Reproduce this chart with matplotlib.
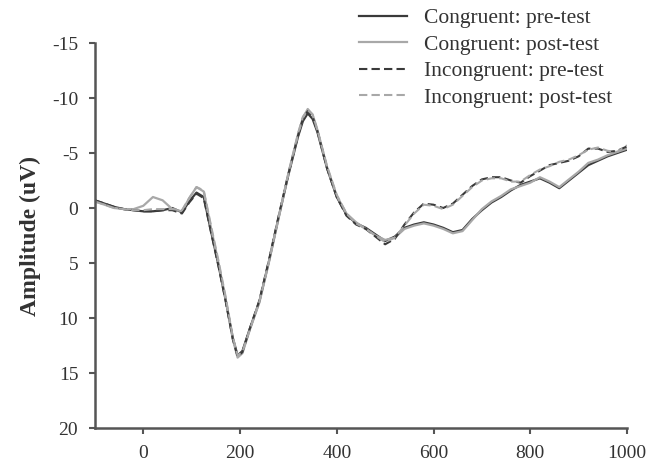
import matplotlib
matplotlib.use("Agg")
import matplotlib.pyplot as plt

plt.rcParams['font.family'] = ['Liberation Serif', 'DejaVu Serif']
plt.rcParams['axes.unicode_minus'] = False

# time points (ms)
times = [-100, -80, -60, -40, -20, 0, 20, 40, 60, 80, 95, 110, 125, 140, 155, 170, 185, 195,
         205, 220, 240, 260, 280, 300, 320, 330, 340, 350, 360, 380, 400, 420, 440, 460, 480, 500, 520,
         540, 560, 580, 600, 620, 640, 660, 680, 700, 720, 740, 760, 780, 800, 820, 840, 860,
         880, 900, 920, 940, 960, 980, 1000]

# amplitudes (uV)
cong_pre = [-0.7, -0.4, -0.1, 0.1, 0.2, 0.3, 0.3, 0.2, 0.0, 0.4, -0.6, -1.4, -1.0, 2.1, 5.1, 8.3, 11.8, 13.4,
            13.0, 11.0, 8.5, 4.8, 0.8, -3.0, -6.5, -7.9, -8.6, -8.1, -6.9, -3.6, -1.0, 0.6, 1.4, 1.8, 2.4, 3.0, 2.6,
            1.8, 1.5, 1.3, 1.5, 1.8, 2.2, 2.0, 1.0, 0.2, -0.5, -1.0, -1.6, -2.1, -2.4, -2.7, -2.3, -1.8,
            -2.5, -3.2, -3.9, -4.3, -4.7, -5.0, -5.3]
cong_post = [-0.6, -0.3, 0.0, 0.1, 0.1, -0.2, -1.0, -0.7, 0.1, 0.3, -0.9, -1.9, -1.5, 1.8, 4.9, 8.2, 11.9, 13.6,
             13.2, 11.1, 8.6, 4.9, 0.9, -3.1, -6.7, -8.2, -9.0, -8.5, -7.1, -3.7, -1.1, 0.5, 1.3, 1.9, 2.5, 2.9, 2.7,
             1.9, 1.6, 1.4, 1.6, 1.9, 2.3, 2.1, 1.1, 0.1, -0.6, -1.1, -1.7, -2.0, -2.3, -2.8, -2.4, -1.9,
             -2.6, -3.3, -4.1, -4.4, -4.8, -5.1, -5.4]
incong_pre = [-0.7, -0.4, -0.1, 0.1, 0.2, 0.3, 0.3, 0.2, 0.2, 0.5, -0.5, -1.3, -0.9, 2.2, 5.2, 8.4, 11.9, 13.5,
              13.1, 11.0, 8.4, 4.7, 0.7, -3.1, -6.6, -8.1, -8.8, -8.3, -7.0, -3.6, -1.0, 0.7, 1.5, 1.9, 2.6, 3.3, 2.8,
              1.5, 0.4, -0.4, -0.3, 0.0, -0.4, -1.2, -2.0, -2.6, -2.8, -2.8, -2.5, -2.3, -2.9, -3.4, -3.9, -4.1,
              -4.3, -4.7, -5.4, -5.4, -5.1, -5.2, -5.6]
incong_post = [-0.6, -0.3, 0.0, 0.1, 0.2, 0.2, 0.1, 0.1, 0.1, 0.2, -0.9, -1.9, -1.6, 1.6, 4.7, 8.0, 11.7, 13.4,
               13.1, 11.1, 8.5, 4.8, 0.8, -3.2, -6.8, -8.3, -8.9, -8.5, -7.1, -3.8, -1.2, 0.5, 1.4, 1.9, 2.5, 3.1, 2.7,
               1.6, 0.5, -0.3, -0.2, 0.1, -0.3, -1.1, -1.9, -2.5, -2.7, -2.7, -2.4, -2.4, -3.0, -3.5, -3.8, -4.2,
               -4.4, -4.8, -5.3, -5.5, -5.2, -5.1, -5.7]

labels = ['Congruent: pre-test', 'Congruent: post-test',
          'Incongruent: pre-test', 'Incongruent: post-test']

fig = plt.figure(figsize=(6.5, 4.69), dpi=100)
ax = fig.add_axes([0.146, 0.0874, 0.8186, 0.8209])

dark = '#3a3a3a'
light = '#a8a8a8'
ax.plot(times, cong_pre, color=dark, lw=1.6, label=labels[0])
ax.plot(times, cong_post, color=light, lw=1.6, label=labels[1])
ax.plot(times, incong_pre, color=dark, lw=1.5, ls=(0, (4, 2)), label=labels[2])
ax.plot(times, incong_post, color=light, lw=1.5, ls=(0, (4, 2)), label=labels[3])

ax.set_xlim(-100, 1000)
ax.set_ylim(20, -15)
ax.set_xticks([0, 200, 400, 600, 800, 1000])
ax.set_yticks([-15, -10, -5, 0, 5, 10, 15, 20])

for s in ['top', 'right']:
    ax.spines[s].set_visible(False)
for s in ['left', 'bottom']:
    ax.spines[s].set_color('#555555')
    ax.spines[s].set_linewidth(1.8)
ax.tick_params(colors='#555555', width=1.5, length=4, labelsize=14, labelcolor='#333333', pad=8)

ax.set_ylabel('Amplitude (uV)', fontsize=17, fontweight='bold', color='#333333', labelpad=8)

leg = ax.legend(loc='upper left', bbox_to_anchor=(357 / 650, 1 - 6 / 469), bbox_transform=fig.transFigure,
                frameon=False, fontsize=15.5, handlelength=2.2, handletextpad=0.8,
                labelspacing=0.3, borderaxespad=0, borderpad=0.1)
for t in leg.get_texts():
    t.set_color('#333333')

fig.savefig('out.png', dpi=100)
